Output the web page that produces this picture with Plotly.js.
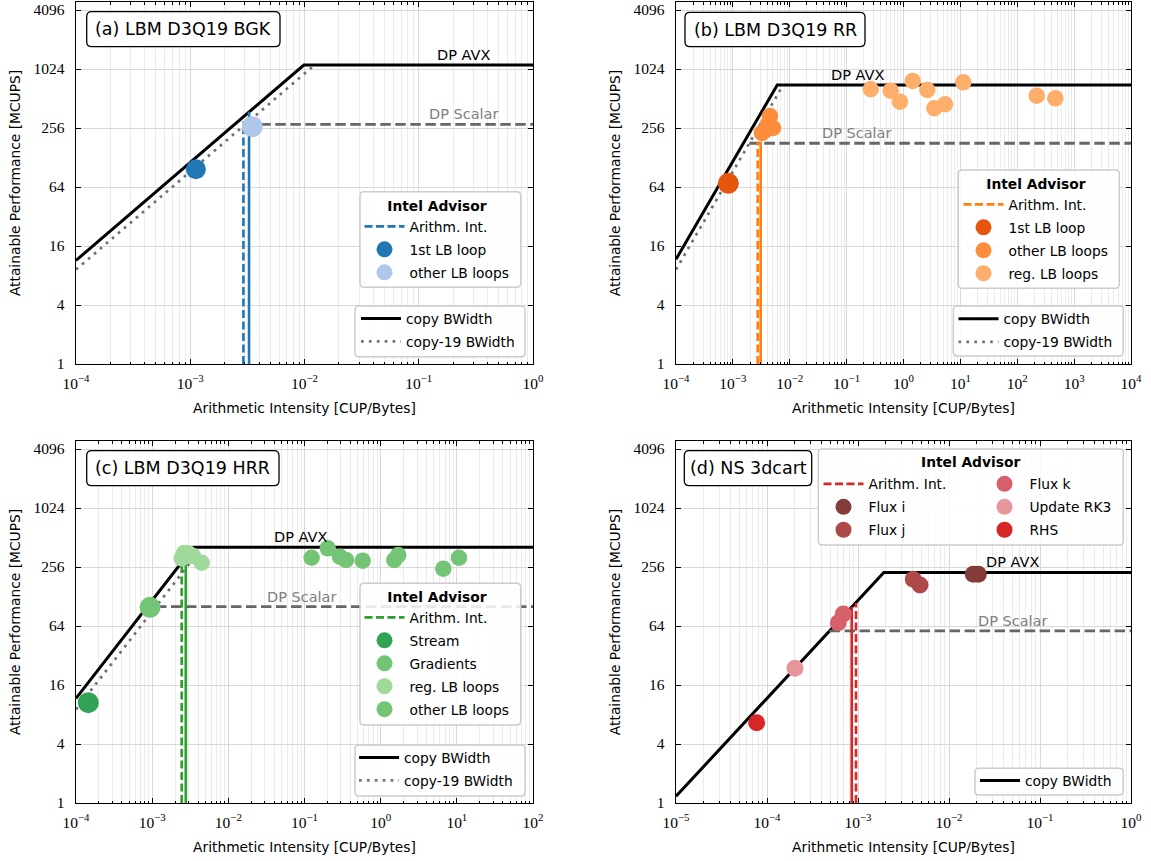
<!DOCTYPE html>
<html><head><meta charset="utf-8">
<script src="https://cdn.plot.ly/plotly-3.0.1.min.js"></script>
<style>body{margin:0;background:#fff}#chart{width:1151px;height:861px}</style>
</head><body><div id="chart"></div><script>
// ================= DATA =================
const panelTitles = ["(a) LBM D3Q19 BGK", "(b) LBM D3Q19 RR", "(c) LBM D3Q19 HRR", "(d) NS 3dcart"];
// roofline parameters per panel (a..d)
const bwCopy     = [114000, 117000, 117000, 117000];   // MCUPS per (CUP/Byte)
const bwCopy19   = [92000, 92000, 90000, null];
const peakAVX    = [1125, 705, 407, 225];
const peakScalar = [279, 179, 101, 57];
const xMin = [1e-4, 1e-4, 1e-4, 1e-5];
const xMax = [1, 1e4, 1e2, 1];
// arithmetic intensity markers (vertical lines)
const aiAdvisor    = [0.00292, 0.00273, 0.00244, 0.000951];  // dashed
const aiAdvisorTop = [300, 185, 270, 110];
const aiModel      = [0.00327, 0.00308, 0.00276, 0.000853];  // solid
const aiModelTop   = [375, 185, 270, 100];

// (a) BGK
const aFirstX = [0.00112], aFirstY = [97];
const aOtherX = [0.00349], aOtherY = [264];
// (b) RR
const bFirstX = [0.000832], bFirstY = [69.8];
const bOtherX = [0.0045, 0.00415, 0.00325, 0.00508, 0.00382];
const bOtherY = [339, 281, 228, 256, 244];
const bRegX = [0.265, 0.596, 0.867, 1.45, 2.62, 3.48, 5.37, 11.25, 220, 467];
const bRegY = [636, 615, 475, 772, 625, 407, 447, 749, 547, 514];
// (c) HRR
const cStreamX = [1.45e-4], cStreamY = [10.56];
const cGradX = [9.37e-4], cGradY = [99.3];
const cRegX = [0.00244, 0.00262, 0.00298, 0.00344, 0.00447];
const cRegY = [314, 356, 353, 331, 283];
const cOtherX = [0.124, 0.202, 0.292, 0.351, 0.581, 1.51, 1.70, 6.64, 10.67];
const cOtherY = [318, 397, 326, 302, 297, 302, 339, 246, 318];
// (d) NS 3dcart
const dFluxIX = [0.0185, 0.0210], dFluxIY = [215.7, 215.7];
const dFluxJX = [0.00405, 0.00480], dFluxJY = [191.7, 167.7];
const dFluxKX = [0.000607, 0.000689], dFluxKY = [69.2, 84.9];
const dRK3X = [0.000203], dRK3Y = [23.7];
const dRHSX = [0.000077], dRHSY = [6.6];

const yTickVals = [1, 4, 16, 64, 256, 1024, 4096];
const yTickText = ["1", "4", "16", "64", "256", "1024", "4096"];
const lineColor = ["#1f77b4", "#ff7f0e", "#2ca02c", "#d62728"];

// ================= LAYOUT HELPERS =================
const W = 1151, H = 861;
const px = v => v / W, py = v => 1 - v / H;
const SANS = "DejaVu Sans", SERIF = "Liberation Serif";
const LEGFONT = 13.8;

function rrect(x0, y0, x1, y1, r) {
  const P = (x, y) => px(x).toFixed(5) + "," + py(y).toFixed(5);
  return "M" + P(x0 + r, y0) + " L" + P(x1 - r, y0) + " Q" + P(x1, y0) + " " + P(x1, y0 + r) +
    " L" + P(x1, y1 - r) + " Q" + P(x1, y1) + " " + P(x1 - r, y1) +
    " L" + P(x0 + r, y1) + " Q" + P(x0, y1) + " " + P(x0, y1 - r) +
    " L" + P(x0, y0 + r) + " Q" + P(x0, y0) + " " + P(x0 + r, y0) + " Z";
}

const sub = ["", "2", "3", "4"];
const traces = [];
let gid = 0;
function add(t, i) {
  t.xaxis = "x" + sub[i]; t.yaxis = "y" + sub[i];
  t.legendgroup = "g" + (gid++);
  if (t.showlegend === undefined) t.showlegend = true;
  traces.push(t);
}

const legIA = ["legend", "legend3", "legend5", "legend7"];
const legCopy = ["legend2", "legend4", "legend6", "legend9"];

for (let i = 0; i < 4; i++) {
  const bw = bwCopy[i], pk = peakAVX[i];
  add({type: "scatter", mode: "lines", name: "copy BWidth", legend: legCopy[i],
       x: [xMin[i], pk / bw, xMax[i]], y: [bw * xMin[i], pk, pk],
       line: {color: "#000", width: 3}, hoverinfo: "skip"}, i);
  let scalarStart = peakScalar[i] / bw;
  if (bwCopy19[i]) {
    const b19 = bwCopy19[i];
    add({type: "scatter", mode: "lines", name: "copy-19 BWidth", legend: legCopy[i],
         x: [xMin[i], pk / b19], y: [b19 * xMin[i], pk],
         line: {color: "#707070", width: 2.7, dash: "2.7px,5.2px"}, hoverinfo: "skip"}, i);
    scalarStart = peakScalar[i] / b19;
  }
  add({type: "scatter", mode: "lines", showlegend: false,
       x: [scalarStart, xMax[i]], y: [peakScalar[i], peakScalar[i]],
       line: {color: "#666666", width: 2.8, dash: "10.5px,4.5px"}, hoverinfo: "skip"}, i);
  add({type: "scatter", mode: "lines", showlegend: false,
       x: [aiModel[i], aiModel[i]], y: [1, aiModelTop[i]],
       line: {color: lineColor[i], width: 2.6}, hoverinfo: "skip"}, i);
  add({type: "scatter", mode: "lines", name: "Arithm. Int.", legend: legIA[i],
       x: [aiAdvisor[i], aiAdvisor[i]], y: [1, aiAdvisorTop[i]],
       line: {color: lineColor[i], width: 2.6, dash: "8px,3.5px"}, hoverinfo: "skip"}, i);
}
function mk(name, legend, x, y, color, size, i) {
  add({type: "scatter", mode: "markers", name, legend, x, y,
       marker: {color, size, line: {width: 0}}}, i);
}
mk("1st LB loop", "legend", aFirstX, aFirstY, "#1f77b4", 20, 0);
mk("other LB loops", "legend", aOtherX, aOtherY, "#aec7e8", 21, 0);

mk("1st LB loop", "legend3", bFirstX, bFirstY, "#e6550d", 21, 1);
mk("other LB loops", "legend3", bOtherX, bOtherY, "#fd8d3c", 16.5, 1);
mk("reg. LB loops", "legend3", bRegX, bRegY, "#fdae6b", 16.5, 1);

mk("Stream", "legend5", cStreamX, cStreamY, "#31a354", 21, 2);
mk("Gradients", "legend5", cGradX, cGradY, "#74c476", 21, 2);
mk("reg. LB loops", "legend5", cRegX, cRegY, "#a1d99b", 16.5, 2);
mk("other LB loops", "legend5", cOtherX, cOtherY, "#74c476", 16.5, 2);

mk("Flux i", "legend7", dFluxIX, dFluxIY, "#843c39", 17, 3);
mk("Flux j", "legend7", dFluxJX, dFluxJY, "#ad494a", 17, 3);
mk("Flux k", "legend8", dFluxKX, dFluxKY, "#d6616b", 17, 3);
mk("Update RK3", "legend8", dRK3X, dRK3Y, "#e7969c", 17, 3);
mk("RHS", "legend8", dRHSX, dRHSY, "#d62728", 17, 3);

// ================= AXES =================
function decadeTicks(lo, hi) {
  const v = [], t = [], m = [];
  for (let e = lo; e <= hi; e++) {
    v.push(Math.pow(10, e));
    t.push("10<sup>" + (e < 0 ? "\u2212" + (-e) : e) + "</sup>");
    if (e < hi) for (let k = 2; k <= 9; k++) m.push(k * Math.pow(10, e));
  }
  return {v, t, m};
}
const xDom = [[76 / W, 533 / W], [676 / W, 1131 / W]];
const yDom = [[1 - 364 / H, 1 - 2 / H], [1 - 803 / H, 1 - 441 / H]];
const yTop = 3.694;
const layout = {
  width: W, height: H, margin: {l: 0, r: 0, t: 0, b: 0},
  paper_bgcolor: "#fff", plot_bgcolor: "#fff", showlegend: true,
  font: {family: SANS, color: "#000"},
  shapes: [], annotations: []
};
const common = {
  type: "log", showline: true, linecolor: "#000", linewidth: 1.3, mirror: "allticks",
  ticks: "inside", ticklen: 5, tickwidth: 1, tickcolor: "#000",
  showgrid: true, gridcolor: "#d9d9d9", gridwidth: 1, zeroline: false,
  tickfont: {family: SERIF, size: 15.5, color: "#000"}, fixedrange: true
};
for (let i = 0; i < 4; i++) {
  const lo = Math.round(Math.log10(xMin[i])), hi = Math.round(Math.log10(xMax[i]));
  const dt = decadeTicks(lo, hi);
  layout["xaxis" + sub[i]] = Object.assign({}, common, {
    domain: xDom[i % 2], anchor: "y" + sub[i], range: [lo, hi],
    tickmode: "array", tickvals: dt.v, ticktext: dt.t, ticklabelstandoff: 5,
    minor: {tickmode: "array", tickvals: dt.m, ticks: "inside", ticklen: 2.5, tickcolor: "#000",
            showgrid: true, gridcolor: "#ebebeb", gridwidth: 1},
    title: {text: "Arithmetic Intensity [CUP/Bytes]", font: {family: SANS, size: 13.8}, standoff: 12}
  });
  layout["yaxis" + sub[i]] = Object.assign({}, common, {
    domain: yDom[Math.floor(i / 2)], anchor: "x" + sub[i], range: [0, yTop],
    tickmode: "array", tickvals: yTickVals, ticktext: yTickText, ticklabelstandoff: 7,
    title: {text: "Attainable Performance [MCUPS]", font: {family: SANS, size: 13.8}, standoff: 9}
  });
}

// ================= BOXES / LABELS =================
const titleBoxes = [[86.7, 11.7, 280, 46.7], [685, 12.3, 865, 46.7], [86.7, 450.7, 279, 485.7], [684.3, 450.7, 811.7, 485.7]];
titleBoxes.forEach((b, i) => {
  layout.shapes.push({type: "path", xref: "paper", yref: "paper", layer: "above",
    path: rrect(b[0], b[1], b[2], b[3], 5), fillcolor: "rgba(255,255,255,0.9)", line: {color: "#000", width: 1.3}});
  layout.annotations.push({xref: "paper", yref: "paper", x: px((b[0] + b[2]) / 2), y: py((b[1] + b[3]) / 2),
    xanchor: "center", yanchor: "middle", showarrow: false, text: panelTitles[i],
    font: {family: SANS, size: 17.5, color: "#000"}});
});
const legBoxes = [[360, 191.7, 520.7, 287.3], [355, 306, 525, 356.7], [958.3, 170, 1119.3, 288.3], [953.3, 306, 1123.3, 356],
  [360, 583.3, 520.7, 725], [355, 745, 525, 796], [818.3, 449, 1123.3, 545], [975, 768.3, 1123.3, 795]];
legBoxes.forEach(b => layout.shapes.push({type: "path", xref: "paper", yref: "paper", layer: "above",
  path: rrect(b[0], b[1], b[2], b[3], 4), fillcolor: "rgba(255,255,255,0.85)", line: {color: "#cccccc", width: 1.5}}));
layout.annotations.push({xref: "paper", yref: "paper", x: px(970.7), y: py(461.7), xanchor: "center", yanchor: "middle",
  showarrow: false, text: "<b>Intel Advisor</b>", font: {family: SANS, size: LEGFONT, color: "#000"}});

const avxX = [463, 857, 300, 1012], scX = [463, 856, 301, 1012];
for (let i = 0; i < 4; i++) {
  layout.annotations.push({xref: "paper", yref: "y" + sub[i], x: px(avxX[i]), y: Math.log10(peakAVX[i]),
    xanchor: "center", yanchor: "bottom", yshift: 0, showarrow: false, text: "DP AVX",
    font: {family: SANS, size: 14.5, color: "#000"}});
  layout.annotations.push({xref: "paper", yref: "y" + sub[i], x: px(scX[i]), y: Math.log10(peakScalar[i]),
    xanchor: "center", yanchor: "bottom", yshift: 0, showarrow: false, text: "DP Scalar",
    font: {family: SANS, size: 14.5, color: "#808080"}});
}

// ================= LEGENDS =================
function leg(x, y, title) {
  const o = {x: px(x), y: py(y), xanchor: "left", yanchor: "top", bgcolor: "rgba(0,0,0,0)", borderwidth: 0,
    font: {family: SANS, size: LEGFONT, color: "#000"}, tracegroupgap: 2, itemwidth: 40,
    itemclick: false, itemdoubleclick: false};
  if (title) o.title = {text: "<b>Intel Advisor</b>", side: "top center", font: {family: SANS, size: LEGFONT}};
  return o;
}
layout.legend = leg(359.5, 193, true);
layout.legend2 = leg(356, 303, false);
layout.legend3 = leg(958.5, 171, true);
layout.legend4 = leg(953.5, 303.4, false);
layout.legend5 = leg(359.5, 584, true);
layout.legend6 = leg(354, 742, false);
layout.legend7 = leg(818.5, 468.4, false);
layout.legend8 = leg(979.5, 468.4, false);
layout.legend9 = leg(975, 765, false);

Plotly.newPlot("chart", traces, layout, {staticPlot: true, displayModeBar: false});
</script></body></html>
